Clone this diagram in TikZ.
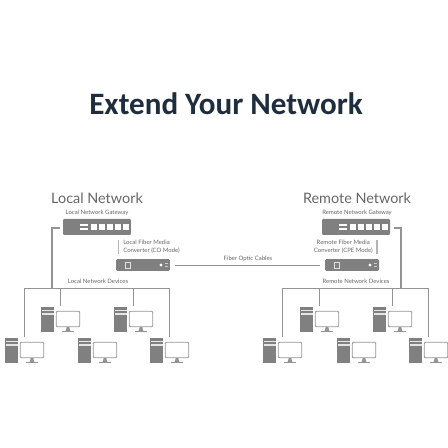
\documentclass[tikz,border=0pt]{standalone}
\usepackage{fontspec}
\setmainfont{Lato}
\newfontfamily\titlefont{Carlito}
\usepackage{xcolor}
\usetikzlibrary{positioning}
\definecolor{titleink}{HTML}{1F2E3F}
\definecolor{labelink}{HTML}{666666}
\definecolor{devgray}{HTML}{808080}
\definecolor{wiregray}{HTML}{949494}

\tikzset{
  gatebox/.style={rectangle, rounded corners=0.6pt, fill=devgray, minimum width=1.36cm,
              minimum height=0.32cm, inner sep=0pt},
  convbox/.style={rectangle, rounded corners=0.8pt, fill=devgray, minimum width=1.08cm,
              minimum height=0.24cm, inner sep=0pt},
  towerbox/.style={rectangle, fill=devgray, minimum width=0.26cm, minimum height=0.5cm, inner sep=0pt},
  screenbox/.style={rectangle, rounded corners=0.6pt, draw=wiregray, line width=0.55pt, fill=white,
              minimum width=0.47cm, minimum height=0.31cm, inner sep=0pt},
  gateway/.pic={
    \node[gatebox] (-body) at (34,8) {};
    \fill[white] (17,5) rectangle (25,7);
    \fill[white] (17,9) rectangle (25,11);
    \fill[white] (28,5) rectangle (34,11);
    \fill[white] (36,5) rectangle (42,11);
    \fill[white] (44,5) rectangle (50,11);
    \fill[white] (52,5) rectangle (58,11);
    \fill[white] (59.5,5) rectangle (65.5,11);
  },
  converter/.pic={
    \node[convbox] (-body) at (27,6) {};
    \draw[white!75!devgray, line width=0.3pt] (9,3) rectangle (14,9);
    \fill[white] (45,6) circle (1.7);
    \fill[white!60!devgray] (49,4.5) rectangle (52,5.5);
    \fill[white!60!devgray] (49,7) rectangle (52,8);
  },
  pcunit/.pic={
    \node[towerbox] (-tower) at (6.5,12.5) {};
    \fill[white!80!devgray] (0.5,2.5) rectangle (12.5,4);
    \fill[white!80!devgray] (0.5,6) rectangle (12.5,7.5);
    \node[screenbox] (-screen) at (27,12) {};
    \fill[wiregray] (25.8,20) -- (28.2,20) -- (29.6,24.6) -- (24.4,24.6) -- cycle;
    \fill[wiregray] (21,24.2) rectangle (33,25.2);
    \coordinate (-drop) at (19,-1);
  },
  link/.style={draw=wiregray, line width=0.5pt},
  trunk/.style={draw=wiregray, line width=0.7pt},
  divider/.style={draw=wiregray!70, line width=0.7pt},
  headlbl/.style={font=\fontsize{8.2}{10}\selectfont, text=labelink, inner sep=0pt},
  tinylbl/.style={font=\fontsize{3.4}{4.5}\selectfont, text=labelink, inner sep=0pt},
}

\begin{document}
\begin{tikzpicture}[x=0.02cm, y=-0.02cm]
\useasboundingbox (0,0) rectangle (448,448);
% Row y positions
\def\yBus{288}
\def\yUp{307}
\def\yLow{338}

% Title
\node[font=\fontsize{17.7}{21}\titlefont\bfseries, text=titleink, inner sep=0pt] (title) at (226,104) {Extend Your Network};

% Local side
\node[headlbl] (lhead) at (97,198) {Local Network};
\node[tinylbl] (lgwlbl) at (97,213) {Local Network Gateway};
\pic (lgw) at (63,219) {gateway};
\node[tinylbl, align=left, anchor=west] (lmclbl) at (123,247) {Local Fiber Media\\Converter (CO Mode)};
\pic (lmc) at (116,259) {converter};
\node[tinylbl] (ldevlbl) at (98,281) {Local Network Devices};

% Remote side
\node[headlbl] (rhead) at (357,198) {Remote Network};
\node[tinylbl] (rgwlbl) at (357,213) {Remote Network Gateway};
\pic (rgw) at (322,219) {gateway};
\node[tinylbl, align=center, anchor=east] (rmclbl) at (373,247) {Remote Fiber Media\\Converter (CPE Mode)};
\pic (rmc) at (325,259) {converter};
\node[tinylbl] (rdevlbl) at (356,281) {Remote Network Devices};

% Fiber link
\node[tinylbl] (fiberlbl) at (248,259) {Fiber Optic Cables};
\draw[link, shorten <=2.8pt, shorten >=2.8pt] (lmc-body.east) -- (rmc-body.west);

% Computers
\pic (lpca) at (41,\yUp) {pcunit};
\pic (lpcb) at (114,\yUp) {pcunit};
\pic (lpcc) at (5,\yLow) {pcunit};
\pic (lpcd) at (78,\yLow) {pcunit};
\pic (lpce) at (150,\yLow) {pcunit};
\pic (rpca) at (300,\yUp) {pcunit};
\pic (rpcb) at (373,\yUp) {pcunit};
\pic (rpcc) at (263,\yLow) {pcunit};
\pic (rpcd) at (337,\yLow) {pcunit};
\pic (rpce) at (409,\yLow) {pcunit};

% Bus points
\coordinate (lbus) at (52,\yBus);
\coordinate (rbus) at (401,\yBus);
\coordinate (ltap) at (60,228);
\coordinate (rtap) at (394,228);
\coordinate (lbarA) at (118.7,240);
\coordinate (lbarB) at (118.7,254);
\coordinate (rbarA) at (377,240);
\coordinate (rbarB) at (377,254);

% Arrows
\draw[trunk] (ltap) -| (lbus);
\draw[trunk] (rtap) -| (rbus);
\draw[divider] (lbarA) -- (lbarB);
\draw[divider] (rbarA) -- (rbarB);
\draw[link] (lpcc-drop) |- (lbus);
\draw[link] (lpca-drop) |- (lbus);
\draw[link] (lpcb-drop) |- (lbus);
\draw[link] (lpce-drop) |- (lbus);
\draw[link] (rpcc-drop) |- (rbus);
\draw[link] (rpca-drop) |- (rbus);
\draw[link] (rpcb-drop) |- (rbus);
\draw[link] (rpce-drop) |- (rbus);
\end{tikzpicture}
\end{document}
